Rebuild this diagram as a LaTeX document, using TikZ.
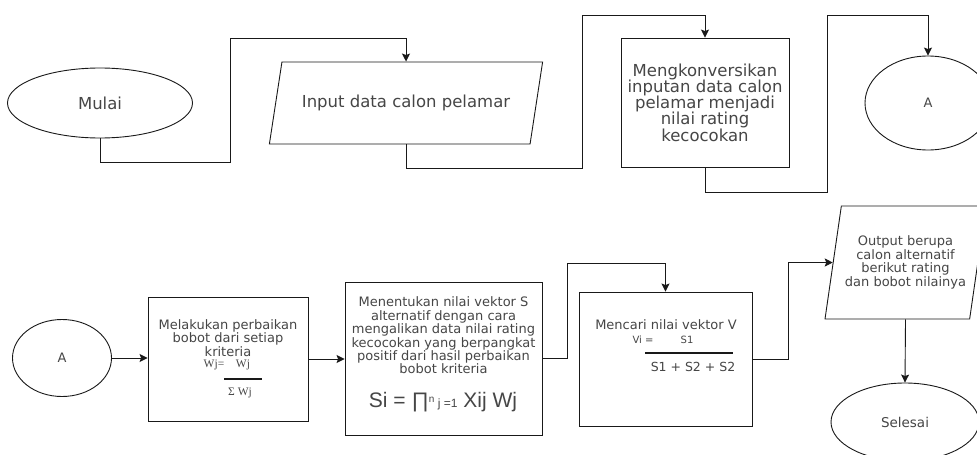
\documentclass[tikz,border=0pt]{standalone}
\usepackage{fontspec}
\setmainfont{DejaVu Sans}
\newfontfamily\arialfont{Liberation Sans}
\newfontfamily\timesfont{Liberation Serif}
\usetikzlibrary{shapes.geometric,arrows.meta}
\definecolor{ink}{RGB}{25,25,25}
\definecolor{txt}{RGB}{70,70,70}

\tikzset{
  terminal/.style={ellipse, draw=ink, line width=0.9pt, inner sep=0pt, text=txt},
  procbox/.style={rectangle, draw=ink, line width=0.9pt, inner sep=0pt},
  iobox/.style={trapezium, trapezium stretches=true, draw=ink, line width=0.9pt, inner sep=0pt, text=txt},
  flow/.style={draw=ink, line width=0.9pt, -{Stealth[length=8pt,width=8pt,inset=1.5pt]}},
  boxtext/.style={align=center, text=txt, font=\fontsize{13}{13.4}\selectfont}
}

\begin{document}
\begin{tikzpicture}[x=1pt,y=-1pt]
  \useasboundingbox (0,0) rectangle (977,455);
  \fill[white] (0,0) rectangle (977,455);

  % top row
  \node[terminal, minimum width=185pt, minimum height=70pt, font=\fontsize{16.5}{16.5}\selectfont] (mulai) at (100,103) {Mulai};
  \node[iobox, trapezium left angle=56.6, trapezium right angle=123.4, minimum width=274pt, minimum height=82pt, font=\fontsize{16.5}{16.5}\selectfont] (input) at (406,103) {Input data calon pelamar};
  \node[procbox, minimum width=168pt, minimum height=129pt, align=center, text=txt, font=\fontsize{16.5}{16.3}\selectfont] (konv) at (705,102.5) {Mengkonversikan\\inputan data calon\\pelamar menjadi\\nilai rating\\kecocokan};
  \node[terminal, minimum width=126pt, minimum height=94pt, font=\fontsize{13}{13}\selectfont] (a1) at (928,103) {A};

  % bottom row
  \node[terminal, minimum width=99pt, minimum height=77pt, font=\fontsize{13}{13}\selectfont] (a2) at (62,358) {A};

  \node[procbox, minimum width=160pt, minimum height=124pt] (perb) at (228,359) {};
  \node[boxtext] (perbtext) at (228,338) {Melakukan perbaikan\\bobot dari setiap\\kriteria};
  \node[text=txt, font=\timesfont\fontsize{11.5}{11.5}\selectfont] (perbwj) at (214,365) {Wj=};
  \node[text=txt, font=\timesfont\fontsize{11.5}{11.5}\selectfont] (perbwj2) at (243,365) {Wj};
  \draw[ink, line width=1.4pt] (224,379) -- (262,379);
  \node[text=txt, font=\timesfont\fontsize{11.5}{11.5}\selectfont] (perbsum) at (240,393) {Σ Wj};

  \node[procbox, minimum width=197pt, minimum height=153pt] (tentu) at (443.5,358.5) {};
  \node[boxtext] (tentutext) at (443.5,335.5) {Menentukan nilai vektor S\\alternatif dengan cara\\mengalikan data nilai rating\\kecocokan yang berpangkat\\positif dari hasil perbaikan\\bobot kriteria};
  \node[text=txt, font=\arialfont\fontsize{21}{21}\selectfont] (sirumus) at (443,402) {Si = ∏\raisebox{5pt}{\fontsize{10}{10}\selectfont n}\,{\fontsize{12}{12}\selectfont j =1} Xij Wj};

  \node[procbox, minimum width=173pt, minimum height=134pt] (cari) at (665.5,359) {};
  \node[boxtext] (caritext) at (666,325) {Mencari nilai vektor V};
  \node[text=txt, font=\fontsize{10}{10}\selectfont] (carivi) at (643,340) {Vi =};
  \node[text=txt, font=\fontsize{10}{10}\selectfont] (caris1) at (687,340) {S1};
  \draw[ink, line width=1.4pt] (645,353) -- (733,353);
  \node[text=txt, font=\fontsize{12.5}{12.5}\selectfont] (carisum) at (693,367) {S1 + S2 + S2};

  \node[iobox, trapezium left angle=73.7, trapezium right angle=106.3, minimum width=161pt, minimum height=113pt, align=center, font=\fontsize{13}{13.4}\selectfont] (out) at (905.5,262.5) {Output berupa\\calon alternatif\\berikut rating\\dan bobot nilainya};
  \node[terminal, minimum width=148pt, minimum height=78pt, font=\fontsize{13.5}{13.5}\selectfont] (selesai) at (905,422) {Selesai};

  % connectors
  \draw[flow] (mulai.south) |- (230,162) -- (230,38) -| (input.north);
  \draw[flow] (input.south) |- (582,168) -- (582,15) -| (konv.north);
  \draw[flow] (konv.south) |- (827,192) -- (827,15) -| (a1.north);
  \draw[flow] (a2.east) -- (a2.east -| perb.west);
  \draw[flow] (perb.east) -- (perb.east -| tentu.west);
  \draw[flow] (tentu.east) -| (567,263) -| (cari.north);
  \draw[flow] (cari.east) -- ++(36,0) |- (out.west);
  \draw[flow] (out.south) -- (selesai.north);
\end{tikzpicture}
\end{document}
